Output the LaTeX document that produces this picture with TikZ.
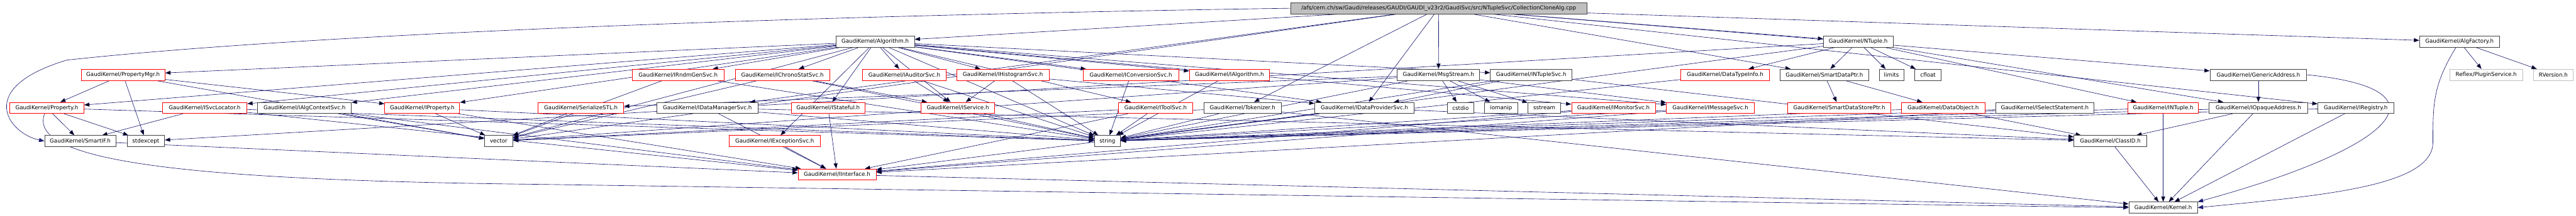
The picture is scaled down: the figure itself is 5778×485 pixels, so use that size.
\documentclass[tikz,border=0pt]{standalone}
\usepackage{fontspec}
\setmainfont{DejaVu Sans}
\usetikzlibrary{arrows.meta,backgrounds}
\definecolor{edgeblue}{HTML}{191970}
\definecolor{boxgrey}{HTML}{404040}
\definecolor{extgrey}{HTML}{BFBFBF}
\definecolor{truncred}{HTML}{FF0000}

\begin{document}
\begin{tikzpicture}[
  x=1pt, y=-1pt,
  hd/.style={draw=boxgrey, fill=white, line width=1.1pt, minimum height=25pt,
    inner sep=0pt, font=\fontsize{12.3}{14}\selectfont},
  hdtr/.style={hd, draw=truncred},
  hdext/.style={hd, draw=extgrey},
  src/.style={hd, fill=extgrey},
  inc/.style={-{Triangle[length=12pt,width=9pt]}, draw=edgeblue, line width=0.9pt}]

  \useasboundingbox (0,0) rectangle (5778,485);

  % rank 0
  \node[src, minimum width=664pt] (root) at (3227,18.5)
    {/afs/cern.ch/sw/Gaudi/releases/GAUDI/GAUDI\_v23r2/GaudiSvc/src/NTupleSvc/CollectionCloneAlg.cpp};

  % rank 1
  \node[hd, minimum width=176pt] (alg)  at (1963,93.5)   {GaudiKernel/Algorithm.h};
  \node[hd, minimum width=156pt] (ntup) at (4168,93.5)   {GaudiKernel/NTuple.h};
  \node[hd, minimum width=179pt] (afac) at (5516.5,93.5) {GaudiKernel/AlgFactory.h};

  % rank 2
  \node[hdtr, minimum width=188pt] (pmgr)   at (276,168)    {GaudiKernel/PropertyMgr.h};
  \node[hdtr, minimum width=206pt] (rndm)   at (1521,168)   {GaudiKernel/IRndmGenSvc.h};
  \node[hdtr, minimum width=212pt] (chrono) at (1755,168)   {GaudiKernel/IChronoStatSvc.h};
  \node[hdtr, minimum width=187pt] (audit)  at (2028.5,168) {GaudiKernel/IAuditorSvc.h};
  \node[hdtr, minimum width=207pt] (histo)  at (2249.5,168) {GaudiKernel/IHistogramSvc.h};
  \node[hdtr, minimum width=215pt] (conv)   at (2536.5,168) {GaudiKernel/IConversionSvc.h};
  \node[hdtr, minimum width=179pt] (ialgo)  at (2757.5,168) {GaudiKernel/IAlgorithm.h};
  \node[hd,   minimum width=185pt] (msg)    at (3226.5,168) {GaudiKernel/MsgStream.h};
  \node[hd,   minimum width=183pt] (ntsvc)  at (3434.5,168) {GaudiKernel/INTupleSvc.h};
  \node[hdtr, minimum width=199pt] (dtinfo) at (3869.5,168) {GaudiKernel/DataTypeInfo.h};
  \node[hd,   minimum width=198pt] (sdptr)  at (4092,168)   {GaudiKernel/SmartDataPtr.h};
  \node[hd,   minimum width=55pt]  (limits) at (4242.5,168) {limits};
  \node[hd,   minimum width=59pt]  (cfloat) at (4324.5,168) {cfloat};
  \node[hd,   minimum width=217pt] (gaddr)  at (5065.5,168) {GaudiKernel/GenericAddress.h};
  \node[hdext, minimum width=163pt] (plugin) at (5576.5,168) {Reflex/PluginService.h};
  \node[hdext, minimum width=90pt]  (rver)   at (5727,168)   {RVersion.h};

  % rank 3
  \node[hdtr, minimum width=166pt] (prop)    at (105,242.5)    {GaudiKernel/Property.h};
  \node[hdtr, minimum width=190pt] (svcloc)  at (459,242.5)    {GaudiKernel/ISvcLocator.h};
  \node[hd,   minimum width=210pt] (algctx)  at (683,242.5)    {GaudiKernel/IAlgContextSvc.h};
  \node[hdtr, minimum width=168pt] (iprop)   at (947,242.5)    {GaudiKernel/IProperty.h};
  \node[hdtr, minimum width=192pt] (stl)     at (1303,242.5)   {GaudiKernel/SerializeSTL.h};
  \node[hd,   minimum width=227pt] (dmgr)    at (1586.5,242.5) {GaudiKernel/IDataManagerSvc.h};
  \node[hdtr, minimum width=165pt] (stful)   at (1857.5,242.5) {GaudiKernel/IStateful.h};
  \node[hdtr, minimum width=165pt] (isvc)    at (2148.5,242.5) {GaudiKernel/IService.h};
  \node[hdtr, minimum width=166pt] (tool)    at (2592,242.5)   {GaudiKernel/IToolSvc.h};
  \node[hd,   minimum width=174pt] (tok)     at (2787,242.5)   {GaudiKernel/Tokenizer.h};
  \node[hd,   minimum width=223pt] (dprov)   at (3060.5,242.5) {GaudiKernel/IDataProviderSvc.h};
  \node[hd,   minimum width=60pt]  (cstdio)  at (3276,242.5)   {cstdio};
  \node[hd,   minimum width=74pt]  (iomanip) at (3367,242.5)   {iomanip};
  \node[hd,   minimum width=74pt]  (sstream) at (3464,242.5)   {sstream};
  \node[hdtr, minimum width=188pt] (mon)     at (3619,242.5)   {GaudiKernel/IMonitorSvc.h};
  \node[hdtr, minimum width=197pt] (imsg)    at (3836.5,242.5) {GaudiKernel/IMessageSvc.h};
  \node[hdtr, minimum width=231pt] (sdsptr)  at (4125.5,242.5) {GaudiKernel/SmartDataStorePtr.h};
  \node[hdtr, minimum width=187pt] (dobj)    at (4358.5,242.5) {GaudiKernel/DataObject.h};
  \node[hd,   minimum width=221pt] (isel)    at (4586.5,242.5) {GaudiKernel/ISelectStatement.h};
  \node[hdtr, minimum width=158pt] (intup)   at (4852,242.5)   {GaudiKernel/INTuple.h};
  \node[hd,   minimum width=221pt] (opaq)    at (5065.5,242.5) {GaudiKernel/IOpaqueAddress.h};
  \node[hd,   minimum width=170pt] (ireg)    at (5284,242.5)   {GaudiKernel/IRegistry.h};

  % rank 4
  \node[hd,   minimum width=160pt] (sif)    at (180,317)    {GaudiKernel/SmartIF.h};
  \node[hd,   minimum width=84pt]  (stdexc) at (327,317)    {stdexcept};
  \node[hd,   minimum width=63pt]  (vec)    at (1118.5,317) {vector};
  \node[hdtr, minimum width=205pt] (exc)    at (1737.5,317) {GaudiKernel/IExceptionSvc.h};
  \node[hd,   minimum width=58pt]  (str)    at (2484,317)   {string};
  \node[hd,   minimum width=163pt] (clid)   at (4733.5,317) {GaudiKernel/ClassID.h};

  % rank 5 and 6
  \node[hdtr, minimum width=175pt] (iif)  at (1877.5,392) {GaudiKernel/IInterface.h};
  \node[hd,   minimum width=154pt] (kern) at (4852,466.5) {GaudiKernel/Kernel.h};

  \begin{pgfonlayer}{background}
    % the source file
    \draw[inc] (root) edge (alg) edge (ntup) edge (afac) edge (msg) edge (tok)
      edge (dprov) edge (dmgr) edge (sdptr) edge (gaddr) edge (ireg) edge (vec);
    \draw[inc] (root.west) .. controls (1800,35) and (700,75) .. (150,135)
      .. controls (-60,198) and (20,300) .. (sif.west);

    % first level headers
    \draw[inc] (alg) edge (pmgr) edge (prop) edge (svcloc) edge (algctx) edge (iprop)
      edge (rndm) edge (chrono) edge (audit) edge (histo) edge (conv) edge (ialgo)
      edge (isvc) edge (stful) edge (tool) edge (exc) edge (dprov) edge (ntsvc)
      edge (mon) edge (imsg) edge (str) edge (vec);
    \draw[inc] (ntup) edge (dtinfo) edge (sdptr) edge (limits) edge (cfloat)
      edge (intup) edge (opaq) edge (str) edge (stdexc);
    \draw[inc] (afac) edge (plugin) edge (rver);
    \draw[inc] (afac) .. controls (5458,190) and (5457,230) .. (5457,320)
      .. controls (5457,420) and (5200,440) .. (kern.east);

    % second level headers
    \draw[inc] (pmgr) edge (prop) edge (iprop) edge (stdexc) edge (vec);
    \draw[inc] (rndm) edge (vec) edge (str);
    \draw[inc] (chrono) edge (isvc) edge (vec) edge (str);
    \draw[inc] (audit) edge (isvc) edge (str);
    \draw[inc] (histo) edge (isvc) edge (dprov) edge (str);
    \draw[inc] (conv) edge (str);
    \draw[inc] (ialgo) edge (str);
    \draw[inc] (msg) edge (stl) edge (cstdio) edge (iomanip) edge (sstream)
      edge (imsg) edge (str) edge (vec);
    \draw[inc] (ntsvc) edge (dprov) edge (clid) edge (str);
    \draw[inc] (dtinfo) edge (str);
    \draw[inc] (sdptr) edge (sdsptr) edge (dobj);
    \draw[inc] (gaddr) edge (opaq);
    \draw[inc] (gaddr.east) .. controls (5500,200) and (5380,330) .. (kern.north east);

    % third level headers
    \draw[inc] (prop) edge (sif) edge (stdexc) edge (str);
    \draw[inc] (prop) .. controls (60,360) and (400,405) .. (1200,414) -- (kern.west);
    \draw[inc] (svcloc) edge (sif) edge (iif) edge (str);
    \draw[inc] (algctx) edge (iif) edge (vec);
    \draw[inc] (iprop) edge (iif) edge (str) edge (vec);
    \draw[inc] (stl) edge (vec);
    \draw[inc] (dmgr) edge (iif) edge (str) edge (clid);
    \draw[inc] (stful) edge (iif);
    \draw[inc] (isvc) edge (str);
    \draw[inc] (tool) edge (str) edge (iif) edge (vec);
    \draw[inc] (tok) edge (str) edge (vec) edge (kern);
    \draw[inc] (dprov) edge (iif) edge (str) edge (clid);
    \draw[inc] (mon) edge (str) edge (iif);
    \draw[inc] (imsg) edge (str) edge (iif);
    \draw[inc] (dobj) edge (clid) edge (str);
    \draw[inc] (isel) edge (str) edge (iif);
    \draw[inc] (intup) edge (kern) edge (str);
    \draw[inc] (opaq) edge (kern) edge (str) edge (clid);
    \draw[inc] (ireg) edge (kern) edge (str);

    % lower levels
    \draw[inc] (sif) edge (iif);
    \draw[inc] (exc) edge (iif);
    \draw[inc] (iif) edge (kern);
    \draw[inc] (clid) edge (kern);
  \end{pgfonlayer}
\end{tikzpicture}
\end{document}
